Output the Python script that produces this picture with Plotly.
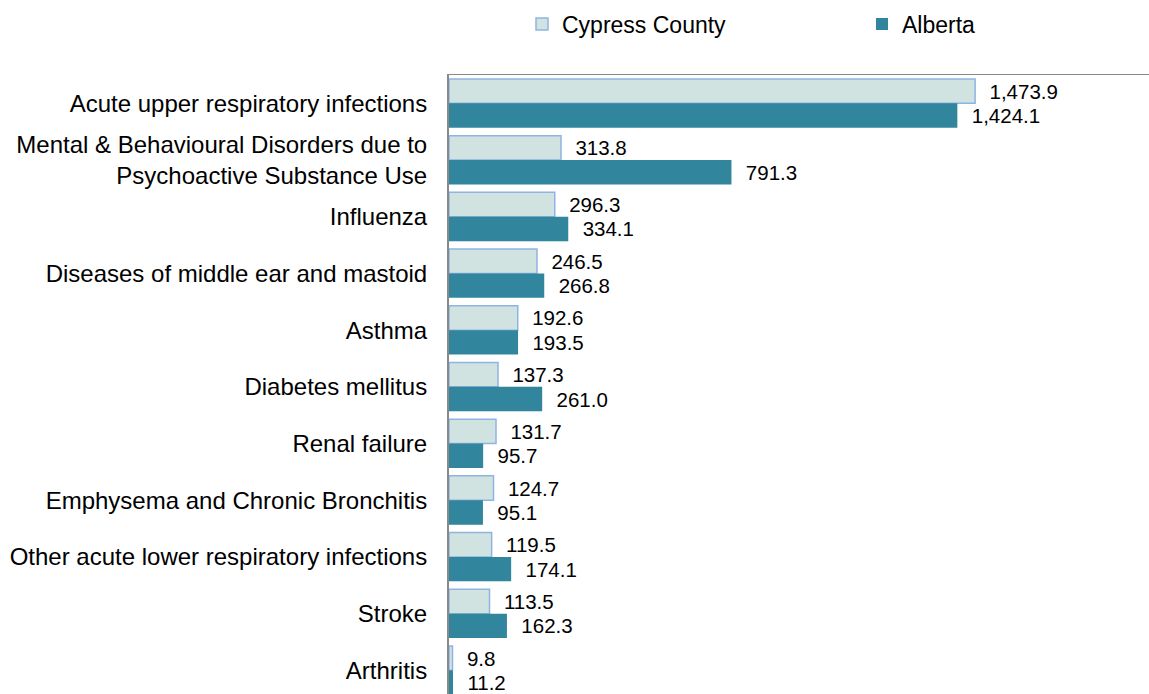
import plotly.graph_objects as go

categories = [
    "Acute upper respiratory infections",
    "Mental & Behavioural Disorders due to<br>Psychoactive Substance Use",
    "Influenza",
    "Diseases of middle ear and mastoid",
    "Asthma",
    "Diabetes mellitus",
    "Renal failure",
    "Emphysema and Chronic Bronchitis",
    "Other acute lower respiratory infections",
    "Stroke",
    "Arthritis",
]
cypress = [1473.9, 313.8, 296.3, 246.5, 192.6, 137.3, 131.7, 124.7, 119.5, 113.5, 9.8]
alberta = [1424.1, 791.3, 334.1, 266.8, 193.5, 261.0, 95.7, 95.1, 174.1, 162.3, 11.2]

FONT = "Liberation Sans, Arial, sans-serif"
PAD = "\u00a0\u00a0"

def fmt(v):
    return PAD + f"{v:,.1f}"

fig = go.Figure()
fig.add_trace(go.Bar(
    name="Cypress County", y=categories, x=cypress, orientation="h",
    marker=dict(color="#d1e3e1", line=dict(color="#8eb4e3", width=1.5)),
    text=[fmt(v) for v in cypress], textposition="outside", constraintext="none",
    textfont=dict(family=FONT, size=20.5, color="#000000"), cliponaxis=False,
    legend="legend",
))
fig.add_trace(go.Bar(
    name="Alberta", y=categories, x=alberta, orientation="h",
    marker=dict(color="#31859c", line=dict(width=0)),
    text=[fmt(v) for v in alberta], textposition="outside", constraintext="none",
    textfont=dict(family=FONT, size=20.5, color="#000000"), cliponaxis=False,
    legend="legend2",
))

leg_common = dict(orientation="h", xref="container", yref="container",
                  xanchor="left", yanchor="middle", y=1 - 24 / 694,
                  font=dict(family=FONT, size=23, color="#000000"),
                  itemwidth=30, bgcolor="rgba(0,0,0,0)")

fig.update_layout(
    width=1149, height=694,
    margin=dict(l=449, r=0, t=75, b=0, autoexpand=False),
    paper_bgcolor="white", plot_bgcolor="white",
    barmode="group", bargap=0.14, bargroupgap=0,
    font=dict(family=FONT, size=24, color="#000000"),
    showlegend=True,
    legend=dict(x=522 / 1149, **leg_common),
    legend2=dict(x=862 / 1149, **leg_common),
    xaxis=dict(range=[0, 1961], side="top", showline=True, linecolor="#898989", linewidth=1,
               showticklabels=False, showgrid=False, zeroline=False, ticks=""),
    yaxis=dict(categoryorder="array", categoryarray=categories, range=[10.417, -0.5],
               showline=True, linecolor="#898989", linewidth=2, showgrid=False,
               ticks="", ticklabelstandoff=15, tickfont=dict(family=FONT, size=24)),
)
fig.write_html("out.html", config={"displayModeBar": False},
               post_script="document.body.style.margin='0';")
